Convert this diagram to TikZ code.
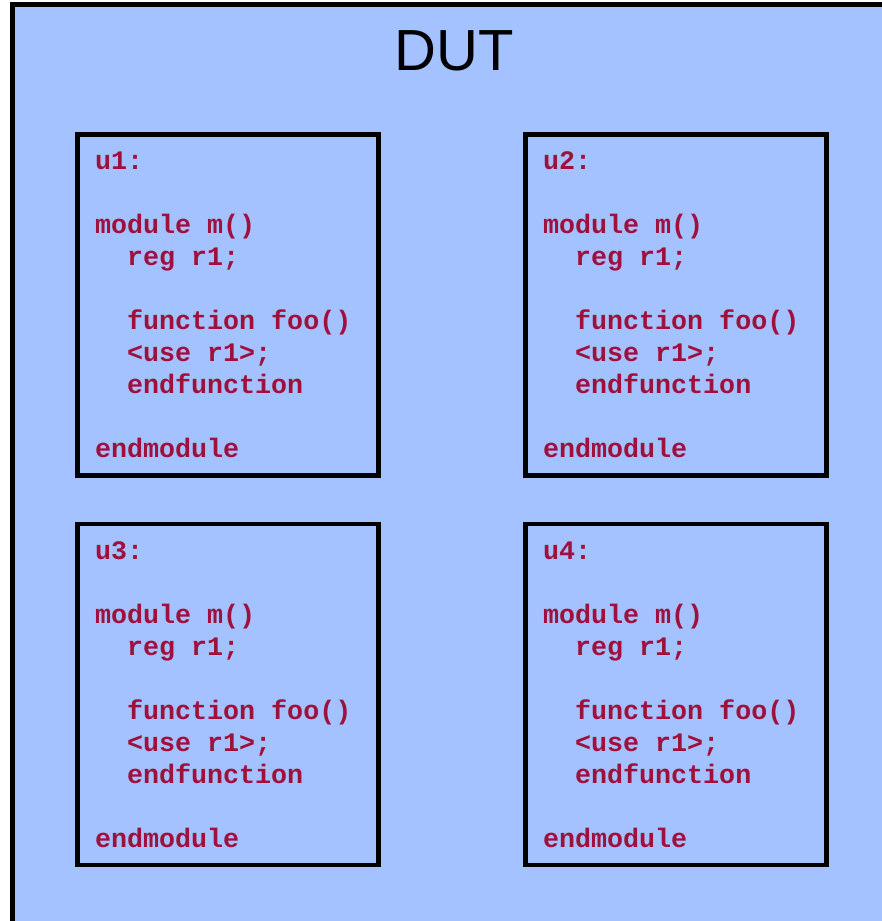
\documentclass[tikz,border=0pt]{standalone}
\usepackage{fontspec}
\usepackage{tikz}
\usetikzlibrary{positioning}
\newfontfamily\codefont{Liberation Mono}
\newfontfamily\titlefont{Liberation Sans}
\definecolor{DUT_Fill}{HTML}{A4C2FF}
\definecolor{Code_Red}{HTML}{A0103C}
\newcommand{\ind}{\hphantom{xx}}
\newcommand{\modcode}[1]{\spaceskip=\fontdimen2\font\xspaceskip=\fontdimen2\font
    #1:\\ \mbox{}\\ module m()\\ \ind reg r1;\\ \mbox{}\\ \ind function foo()\\ \ind <use r1>;\\ \ind endfunction\\ \mbox{}\\ endmodule}

\begin{document}
\begin{tikzpicture}[x=0.5pt, y=-0.5pt,
    unitbox/.style={draw=black, line width=2.25pt, outer sep=0pt,
        minimum width=150.5pt, minimum height=170.5pt,
        inner xsep=8.75pt, text width=133pt, align=left,
        text=Code_Red, font=\codefont\bfseries\fontsize{13.35pt}{16pt}\selectfont}]
    \useasboundingbox (0,0) rectangle (882,921);
    \clip (0,0) rectangle (882,921);
    \filldraw[fill=DUT_Fill, draw=black, line width=2.5pt] (12,4.5) rectangle (900,940);
    \node[anchor=base, font=\titlefont\fontsize{29pt}{34pt}\selectfont] (dut) at (454,70) {DUT};
    \node[unitbox] (u1) at (228,305) {\modcode{u1}};
    \node[unitbox, right=73.5pt of u1] (u2) {\modcode{u2}};
    \node[unitbox, below=24.25pt of u1] (u3) {\modcode{u3}};
    \node[unitbox, below=24.25pt of u2] (u4) {\modcode{u4}};
\end{tikzpicture}
\end{document}
